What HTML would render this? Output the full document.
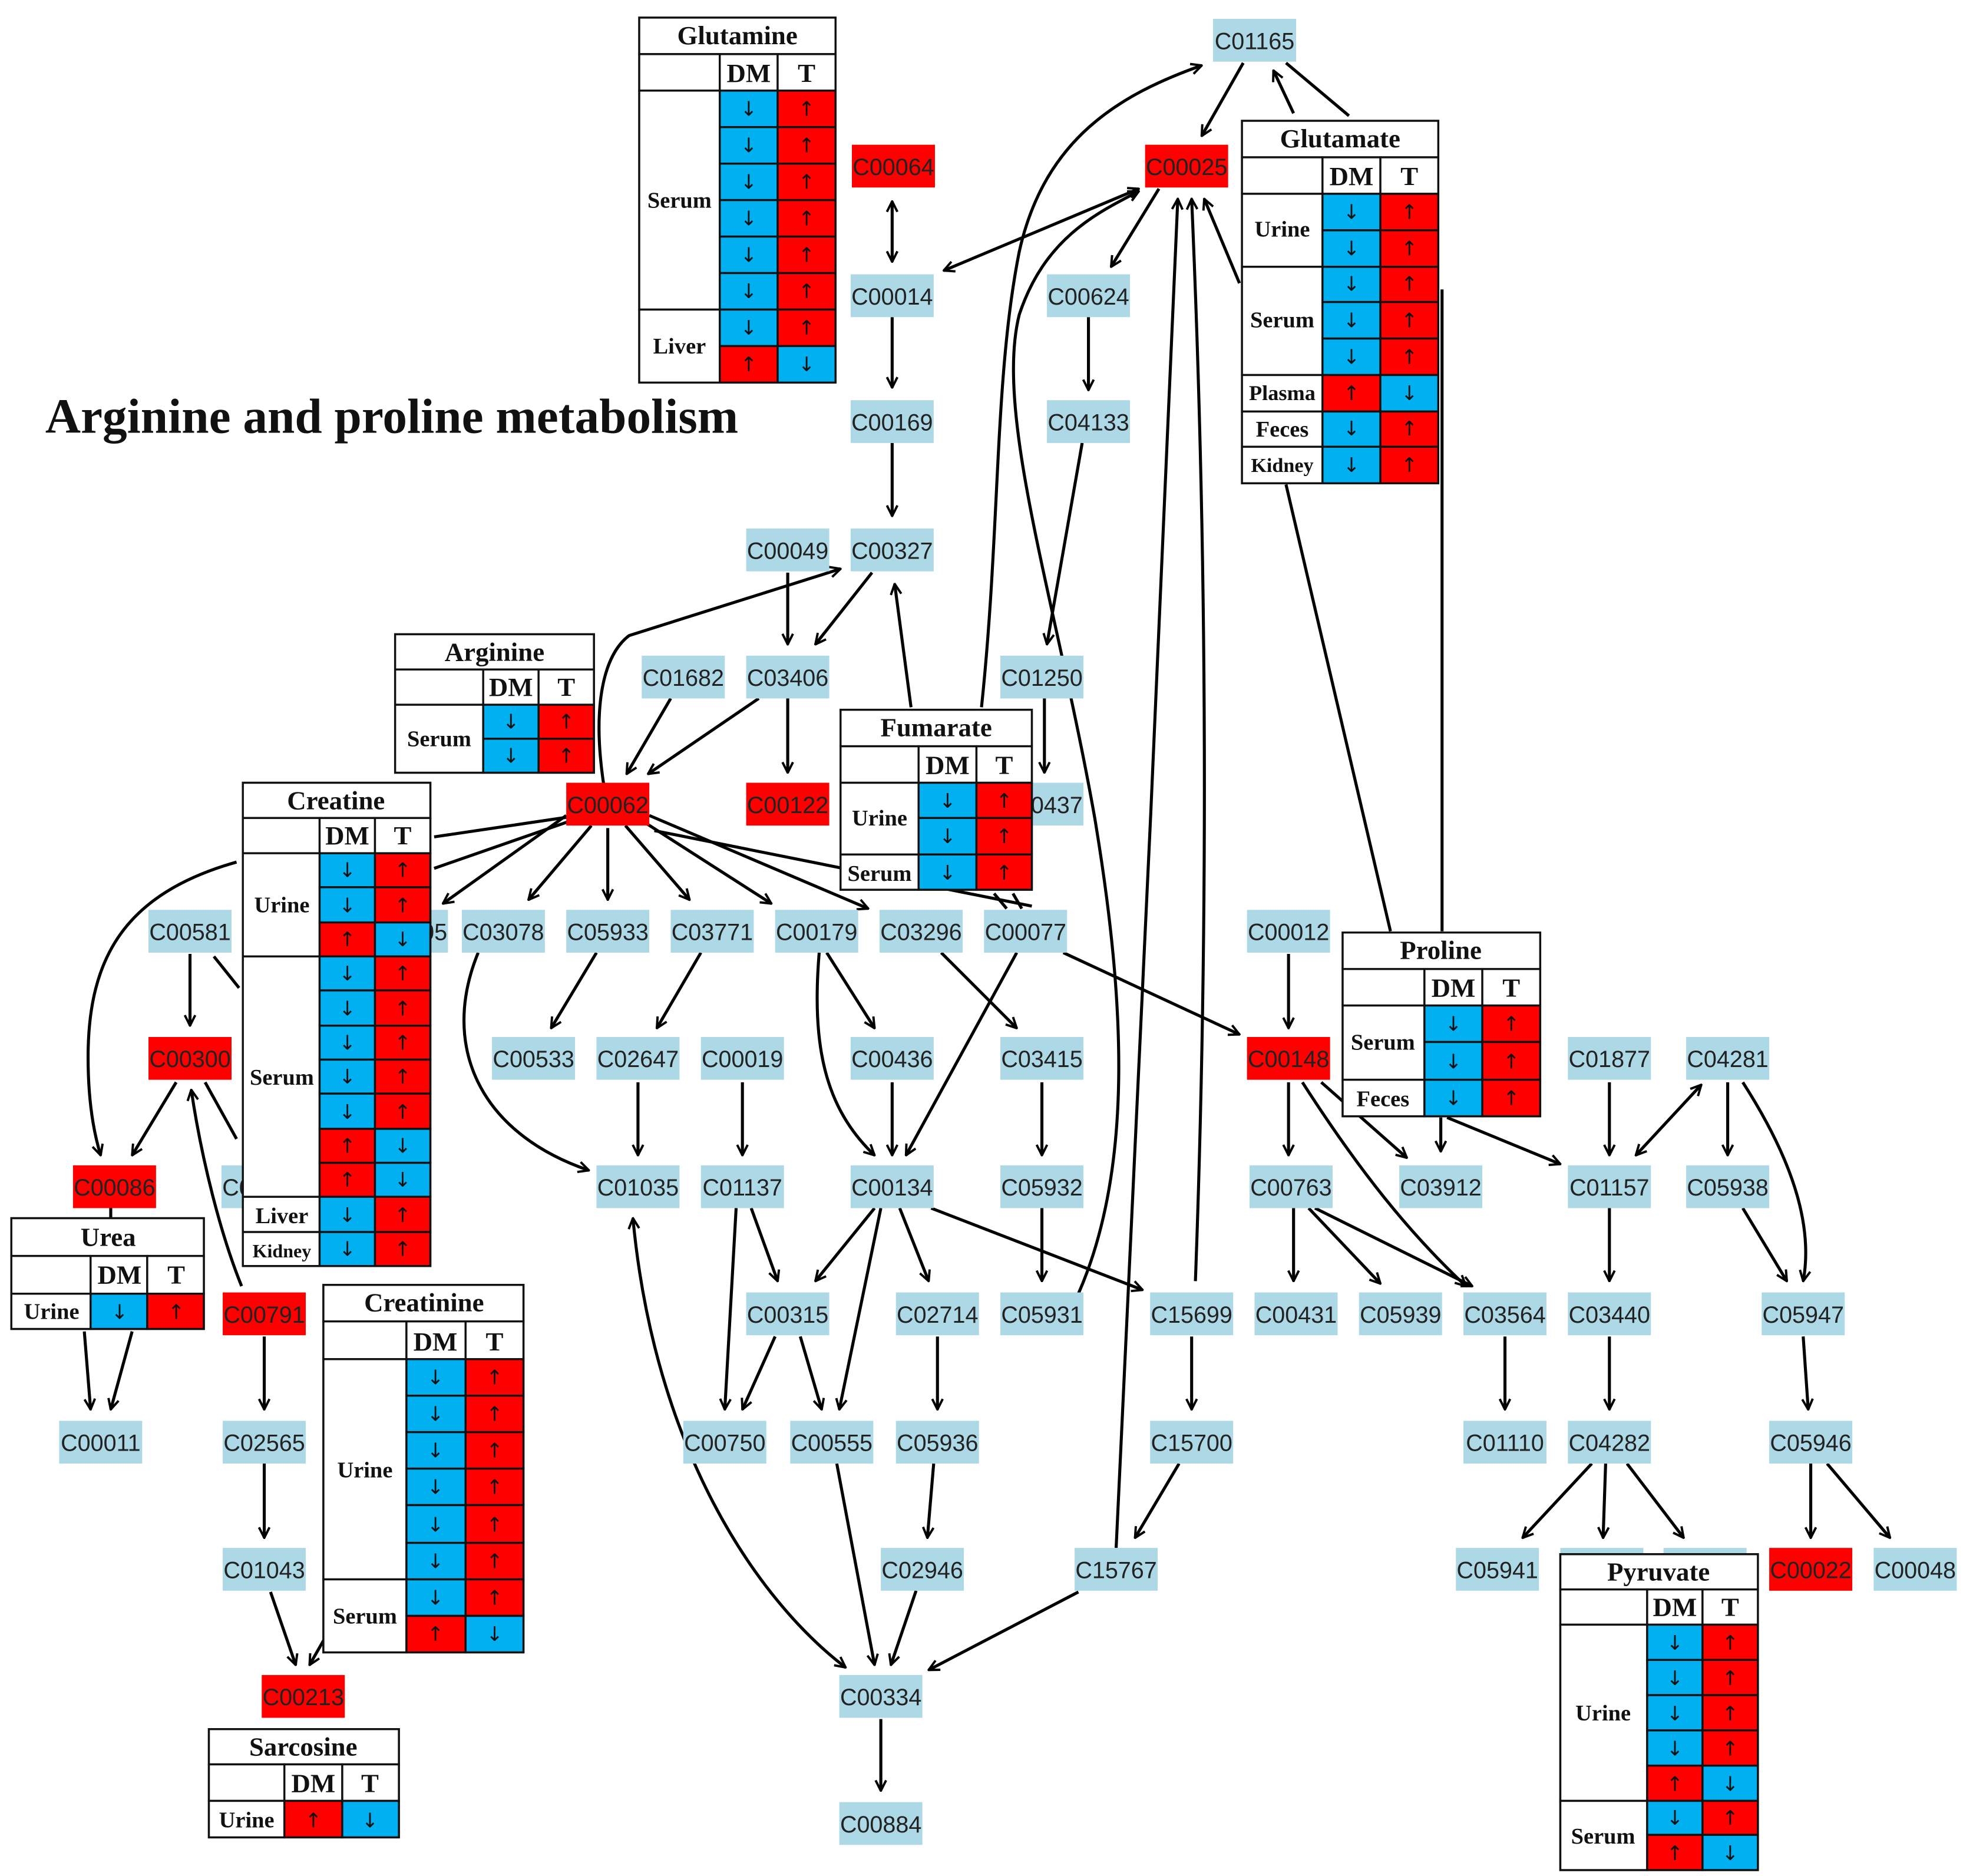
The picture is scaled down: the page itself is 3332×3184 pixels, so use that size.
<!DOCTYPE html>
<html><head><meta charset="utf-8">
<style>
html,body{margin:0;padding:0;background:#fff;}
svg{display:block;}
.n rect{fill:#add8e6;}
.n.r rect{fill:#ff0000;}
.n text{font-family:"Liberation Sans",sans-serif;font-size:18.5px;fill:#222;text-anchor:middle;}
.e{fill:none;stroke:#000;stroke-width:2.4;}
.t rect{stroke:#111;stroke-width:1.6;}
.t .w{fill:#fff;}
.t .b{fill:#00b0f0;}
.t .rr{fill:#ff0000;}
.t text{font-family:"Liberation Serif",serif;font-weight:bold;fill:#111;text-anchor:middle;}
.t .ttl{font-size:21px;}
.t .hd{font-size:21px;}
.t .lb{font-size:18px;}
.t .ar{font-family:"DejaVu Sans",sans-serif;font-weight:normal;font-size:16px;}
</style></head><body>
<svg width="3332" height="3184" viewBox="0 0 1560 1490.7" xmlns="http://www.w3.org/2000/svg">
<defs>
<marker id="a" viewBox="0 0 12 12" refX="11" refY="6" markerWidth="10" markerHeight="10" orient="auto-start-reverse" markerUnits="userSpaceOnUse">
<path d="M1,1 L11,6 L1,11" fill="none" stroke="#000" stroke-width="2.2"/>
</marker>
</defs>
<g>
<text x="36" y="344" font-family="Liberation Serif,serif" font-weight="bold" font-size="39" fill="#111">Arginine and proline metabolism</text>

<!-- connectors -->
<g class="e" marker-end="url(#a)">
<path d="M988,50 L955,108"/>
<path d="M1028,90 L1012,56"/>
<path d="M709,252 L709,308"/>
<path d="M709,352 L709,410"/>
<path d="M921,150 L883,212"/>
<path d="M865,252 L865,310"/>
<path d="M860,352 L832,512"/>
<path d="M830,555 L830,614"/>
<path d="M626,455 L626,512"/>
<path d="M693,455 L648,512"/>
<path d="M626,555 L626,614"/>
<path d="M603,555 L515,615"/>
<path d="M533,555 L498,615"/>
<path d="M480,625 C470,560 480,520 500,505 L668,452"/>
<path d="M724,562 L711,464"/>
<path d="M780,562 C795,420 790,300 810,200 C830,110 890,75 955,52"/>
<path d="M470,656 L420,715"/>
<path d="M483,658 L483,715"/>
<path d="M497,656 L548,715"/>
<path d="M510,652 L613,718"/>
<path d="M516,648 L690,722"/>
<path d="M450,648 L352,718"/>
<path d="M151,758 L151,815"/>
<path d="M140,860 L105,918"/>
<path d="M188,685 C100,710 70,760 70,840 C70,880 76,905 80,918"/>
<path d="M192,1022 C175,980 160,920 152,866"/>
<path d="M67,1058 L72,1120"/>
<path d="M105,1058 L88,1120"/>
<path d="M210,1062 L210,1120"/>
<path d="M210,1163 L210,1222"/>
<path d="M215,1265 L235,1323"/>
<path d="M262,1295 L246,1323"/>
<path d="M380,757 C350,830 380,900 468,930"/>
<path d="M474,757 L438,817"/>
<path d="M557,757 L522,817"/>
<path d="M507,860 L507,918"/>
<path d="M590,860 L590,918"/>
<path d="M657,757 L695,817"/>
<path d="M651,757 C645,830 655,880 695,918"/>
<path d="M709,860 L709,918"/>
<path d="M808,757 L720,918"/>
<path d="M748,757 L808,817"/>
<path d="M828,860 L828,918"/>
<path d="M828,960 L828,1018"/>
<path d="M845,757 L985,822"/>
<path d="M857,1028 C900,930 895,800 870,650 C840,480 790,330 810,250 C830,190 870,170 905,152"/>
<path d="M887,1230 C905,900 920,500 936,158"/>
<path d="M950,1018 C958,800 962,500 947,158"/>
<path d="M985,225 L957,158"/>
<path d="M695,960 L648,1018"/>
<path d="M715,960 L738,1018"/>
<path d="M740,960 L908,1025"/>
<path d="M700,960 L667,1120"/>
<path d="M597,960 L618,1018"/>
<path d="M585,960 L576,1120"/>
<path d="M616,1062 L590,1120"/>
<path d="M636,1062 L653,1120"/>
<path d="M745,1062 L745,1120"/>
<path d="M742,1163 L737,1222"/>
<path d="M665,1163 L695,1323"/>
<path d="M728,1264 L708,1323"/>
<path d="M857,1265 L738,1327"/>
<path d="M700,1366 L700,1423"/>
<path d="M947,1062 L947,1120"/>
<path d="M937,1163 L902,1222"/>
<path d="M1024,758 L1024,817"/>
<path d="M1024,860 L1024,918"/>
<path d="M1050,860 L1118,920"/>
<path d="M1035,860 C1080,930 1120,980 1165,1022"/>
<path d="M1145,888 L1145,915"/>
<path d="M1150,888 L1240,925"/>
<path d="M1028,960 L1028,1018"/>
<path d="M1040,960 L1097,1020"/>
<path d="M1045,960 L1170,1022"/>
<path d="M1196,1062 L1196,1120"/>
<path d="M1279,860 L1279,918"/>
<path d="M1279,960 L1279,1018"/>
<path d="M1279,1062 L1279,1120"/>
<path d="M1265,1163 L1210,1222"/>
<path d="M1276,1163 L1274,1222"/>
<path d="M1293,1163 L1338,1222"/>
<path d="M1373,860 L1373,918"/>
<path d="M1385,860 C1430,930 1440,980 1433,1018"/>
<path d="M1385,960 L1420,1018"/>
<path d="M1433,1062 L1437,1120"/>
<path d="M1439,1163 L1439,1222"/>
<path d="M1452,1163 L1502,1222"/>
</g>
<g class="e">
<path d="M709,160 L709,208" marker-start="url(#a)" marker-end="url(#a)"/>
<path d="M750,215 L905,150" marker-start="url(#a)" marker-end="url(#a)"/>
<path d="M503,968 C520,1150 600,1270 672,1325" marker-start="url(#a)" marker-end="url(#a)"/>
<path d="M1300,918 L1352,862" marker-start="url(#a)" marker-end="url(#a)"/>
<path d="M1072,92 L1022,50"/>
<path d="M1146,230 L1146,740"/>
<path d="M1022,385 L1105,740"/>
<path d="M170,760 L190,785"/>
<path d="M163,860 L188,905"/>
<path d="M520,660 L820,720"/>
<path d="M790,710 L800,722"/>
<path d="M805,710 L812,722"/>
<path d="M345,665 L460,648"/>
<path d="M345,690 L460,650"/>
<path d="M88,958 L88,968"/>
</g>

<!-- nodes -->
<g class="n"><rect x="964" y="15" width="66" height="34"/><text x="997" y="39">C01165</text></g>
<g class="n r"><rect x="677" y="115" width="66" height="34"/><text x="710" y="139">C00064</text></g>
<g class="n r"><rect x="910" y="115" width="66" height="34"/><text x="943" y="139">C00025</text></g>
<g class="n"><rect x="676" y="218" width="66" height="34"/><text x="709" y="242">C00014</text></g>
<g class="n"><rect x="832" y="218" width="66" height="34"/><text x="865" y="242">C00624</text></g>
<g class="n"><rect x="676" y="318" width="66" height="34"/><text x="709" y="342">C00169</text></g>
<g class="n"><rect x="832" y="318" width="66" height="34"/><text x="865" y="342">C04133</text></g>
<g class="n"><rect x="593" y="420" width="66" height="34"/><text x="626" y="444">C00049</text></g>
<g class="n"><rect x="676" y="420" width="66" height="34"/><text x="709" y="444">C00327</text></g>
<g class="n"><rect x="510" y="521" width="66" height="34"/><text x="543" y="545">C01682</text></g>
<g class="n"><rect x="593" y="521" width="66" height="34"/><text x="626" y="545">C03406</text></g>
<g class="n"><rect x="795" y="521" width="66" height="34"/><text x="828" y="545">C01250</text></g>
<g class="n r"><rect x="450" y="622" width="66" height="34"/><text x="483" y="646">C00062</text></g>
<g class="n r"><rect x="593" y="622" width="66" height="34"/><text x="626" y="646">C00122</text></g>
<g class="n"><rect x="795" y="622" width="66" height="34"/><text x="828" y="646">C00437</text></g>
<g class="n"><rect x="118" y="723" width="66" height="34"/><text x="151" y="747">C00581</text></g>
<g class="n"><rect x="290" y="723" width="66" height="34"/><text x="323" y="747">C00405</text></g>
<g class="n"><rect x="367" y="723" width="66" height="34"/><text x="400" y="747">C03078</text></g>
<g class="n"><rect x="450" y="723" width="66" height="34"/><text x="483" y="747">C05933</text></g>
<g class="n"><rect x="533" y="723" width="66" height="34"/><text x="566" y="747">C03771</text></g>
<g class="n"><rect x="616" y="723" width="66" height="34"/><text x="649" y="747">C00179</text></g>
<g class="n"><rect x="699" y="723" width="66" height="34"/><text x="732" y="747">C03296</text></g>
<g class="n"><rect x="782" y="723" width="66" height="34"/><text x="815" y="747">C00077</text></g>
<g class="n"><rect x="991" y="723" width="66" height="34"/><text x="1024" y="747">C00012</text></g>
<g class="n r"><rect x="118" y="824" width="66" height="34"/><text x="151" y="848">C00300</text></g>
<g class="n"><rect x="391" y="824" width="66" height="34"/><text x="424" y="848">C00533</text></g>
<g class="n"><rect x="474" y="824" width="66" height="34"/><text x="507" y="848">C02647</text></g>
<g class="n"><rect x="557" y="824" width="66" height="34"/><text x="590" y="848">C00019</text></g>
<g class="n"><rect x="676" y="824" width="66" height="34"/><text x="709" y="848">C00436</text></g>
<g class="n"><rect x="795" y="824" width="66" height="34"/><text x="828" y="848">C03415</text></g>
<g class="n r"><rect x="991" y="824" width="66" height="34"/><text x="1024" y="848">C00148</text></g>
<g class="n"><rect x="1246" y="824" width="66" height="34"/><text x="1279" y="848">C01877</text></g>
<g class="n"><rect x="1340" y="824" width="66" height="34"/><text x="1373" y="848">C04281</text></g>
<g class="n r"><rect x="58" y="926" width="66" height="34"/><text x="91" y="950">C00086</text></g>
<g class="n"><rect x="176" y="926" width="66" height="34"/><text x="209" y="950">C00000</text></g>
<g class="n"><rect x="474" y="926" width="66" height="34"/><text x="507" y="950">C01035</text></g>
<g class="n"><rect x="557" y="926" width="66" height="34"/><text x="590" y="950">C01137</text></g>
<g class="n"><rect x="676" y="926" width="66" height="34"/><text x="709" y="950">C00134</text></g>
<g class="n"><rect x="795" y="926" width="66" height="34"/><text x="828" y="950">C05932</text></g>
<g class="n"><rect x="993" y="926" width="66" height="34"/><text x="1026" y="950">C00763</text></g>
<g class="n"><rect x="1112" y="926" width="66" height="34"/><text x="1145" y="950">C03912</text></g>
<g class="n"><rect x="1246" y="926" width="66" height="34"/><text x="1279" y="950">C01157</text></g>
<g class="n"><rect x="1340" y="926" width="66" height="34"/><text x="1373" y="950">C05938</text></g>
<g class="n r"><rect x="177" y="1027" width="66" height="34"/><text x="210" y="1051">C00791</text></g>
<g class="n"><rect x="593" y="1027" width="66" height="34"/><text x="626" y="1051">C00315</text></g>
<g class="n"><rect x="712" y="1027" width="66" height="34"/><text x="745" y="1051">C02714</text></g>
<g class="n"><rect x="795" y="1027" width="66" height="34"/><text x="828" y="1051">C05931</text></g>
<g class="n"><rect x="914" y="1027" width="66" height="34"/><text x="947" y="1051">C15699</text></g>
<g class="n"><rect x="997" y="1027" width="66" height="34"/><text x="1030" y="1051">C00431</text></g>
<g class="n"><rect x="1080" y="1027" width="66" height="34"/><text x="1113" y="1051">C05939</text></g>
<g class="n"><rect x="1163" y="1027" width="66" height="34"/><text x="1196" y="1051">C03564</text></g>
<g class="n"><rect x="1246" y="1027" width="66" height="34"/><text x="1279" y="1051">C03440</text></g>
<g class="n"><rect x="1400" y="1027" width="66" height="34"/><text x="1433" y="1051">C05947</text></g>
<g class="n"><rect x="47" y="1129" width="66" height="34"/><text x="80" y="1153">C00011</text></g>
<g class="n"><rect x="177" y="1129" width="66" height="34"/><text x="210" y="1153">C02565</text></g>
<g class="n"><rect x="543" y="1129" width="66" height="34"/><text x="576" y="1153">C00750</text></g>
<g class="n"><rect x="628" y="1129" width="66" height="34"/><text x="661" y="1153">C00555</text></g>
<g class="n"><rect x="712" y="1129" width="66" height="34"/><text x="745" y="1153">C05936</text></g>
<g class="n"><rect x="914" y="1129" width="66" height="34"/><text x="947" y="1153">C15700</text></g>
<g class="n"><rect x="1163" y="1129" width="66" height="34"/><text x="1196" y="1153">C01110</text></g>
<g class="n"><rect x="1246" y="1129" width="66" height="34"/><text x="1279" y="1153">C04282</text></g>
<g class="n"><rect x="1406" y="1129" width="66" height="34"/><text x="1439" y="1153">C05946</text></g>
<g class="n"><rect x="177" y="1230" width="66" height="34"/><text x="210" y="1254">C01043</text></g>
<g class="n"><rect x="700" y="1230" width="66" height="34"/><text x="733" y="1254">C02946</text></g>
<g class="n"><rect x="854" y="1230" width="66" height="34"/><text x="887" y="1254">C15767</text></g>
<g class="n"><rect x="1157" y="1230" width="66" height="34"/><text x="1190" y="1254">C05941</text></g>
<g class="n"><rect x="1240" y="1230" width="66" height="34"/></g>
<g class="n"><rect x="1322" y="1230" width="66" height="34"/></g>
<g class="n r"><rect x="1406" y="1230" width="66" height="34"/><text x="1439" y="1254">C00022</text></g>
<g class="n"><rect x="1489" y="1230" width="66" height="34"/><text x="1522" y="1254">C00048</text></g>
<g class="n r"><rect x="208" y="1331" width="66" height="34"/><text x="241" y="1355">C00213</text></g>
<g class="n"><rect x="667" y="1331" width="66" height="34"/><text x="700" y="1355">C00334</text></g>
<g class="n"><rect x="667" y="1432" width="66" height="34"/><text x="700" y="1456">C00884</text></g>

<!-- Glutamine -->
<g class="t">
<rect class="w" x="508" y="14" width="156" height="290"/>
<rect class="w" x="508" y="14" width="156" height="29"/>
<rect class="w" x="508" y="43" width="64" height="29"/><rect class="w" x="572" y="43" width="46" height="29"/><rect class="w" x="618" y="43" width="46" height="29"/>
<rect class="w" x="508" y="72" width="64" height="174"/><rect class="w" x="508" y="246" width="64" height="58"/>
<rect class="b" x="572" y="72" width="46" height="29"/><rect class="rr" x="618" y="72" width="46" height="29"/>
<rect class="b" x="572" y="101" width="46" height="29"/><rect class="rr" x="618" y="101" width="46" height="29"/>
<rect class="b" x="572" y="130" width="46" height="29"/><rect class="rr" x="618" y="130" width="46" height="29"/>
<rect class="b" x="572" y="159" width="46" height="29"/><rect class="rr" x="618" y="159" width="46" height="29"/>
<rect class="b" x="572" y="188" width="46" height="29"/><rect class="rr" x="618" y="188" width="46" height="29"/>
<rect class="b" x="572" y="217" width="46" height="29"/><rect class="rr" x="618" y="217" width="46" height="29"/>
<rect class="b" x="572" y="246" width="46" height="29"/><rect class="rr" x="618" y="246" width="46" height="29"/>
<rect class="rr" x="572" y="275" width="46" height="29"/><rect class="b" x="618" y="275" width="46" height="29"/>
<text class="ttl" x="586" y="35">Glutamine</text><text class="hd" x="595" y="65">DM</text><text class="hd" x="641" y="65">T</text>
<text class="lb" x="540" y="165">Serum</text><text class="lb" x="540" y="281">Liver</text>
<text class="ar" x="595" y="92">↓</text><text class="ar" x="641" y="92">↑</text>
<text class="ar" x="595" y="121">↓</text><text class="ar" x="641" y="121">↑</text>
<text class="ar" x="595" y="150">↓</text><text class="ar" x="641" y="150">↑</text>
<text class="ar" x="595" y="179">↓</text><text class="ar" x="641" y="179">↑</text>
<text class="ar" x="595" y="208">↓</text><text class="ar" x="641" y="208">↑</text>
<text class="ar" x="595" y="237">↓</text><text class="ar" x="641" y="237">↑</text>
<text class="ar" x="595" y="266">↓</text><text class="ar" x="641" y="266">↑</text>
<text class="ar" x="595" y="295">↑</text><text class="ar" x="641" y="295">↓</text>
</g>

<!-- Glutamate -->
<g class="t">
<rect class="w" x="987" y="96" width="156" height="288"/>
<rect class="w" x="987" y="96" width="156" height="29"/>
<rect class="w" x="987" y="125" width="64" height="29"/><rect class="w" x="1051" y="125" width="46" height="29"/><rect class="w" x="1097" y="125" width="46" height="29"/>
<rect class="w" x="987" y="154" width="64" height="58"/><rect class="w" x="987" y="212" width="64" height="86"/>
<rect class="w" x="987" y="298" width="64" height="29"/><rect class="w" x="987" y="327" width="64" height="28"/><rect class="w" x="987" y="355" width="64" height="29"/>
<rect class="b" x="1051" y="154" width="46" height="29"/><rect class="rr" x="1097" y="154" width="46" height="29"/>
<rect class="b" x="1051" y="183" width="46" height="29"/><rect class="rr" x="1097" y="183" width="46" height="29"/>
<rect class="b" x="1051" y="212" width="46" height="28"/><rect class="rr" x="1097" y="212" width="46" height="28"/>
<rect class="b" x="1051" y="240" width="46" height="29"/><rect class="rr" x="1097" y="240" width="46" height="29"/>
<rect class="b" x="1051" y="269" width="46" height="29"/><rect class="rr" x="1097" y="269" width="46" height="29"/>
<rect class="rr" x="1051" y="298" width="46" height="29"/><rect class="b" x="1097" y="298" width="46" height="29"/>
<rect class="b" x="1051" y="327" width="46" height="28"/><rect class="rr" x="1097" y="327" width="46" height="28"/>
<rect class="b" x="1051" y="355" width="46" height="29"/><rect class="rr" x="1097" y="355" width="46" height="29"/>
<text class="ttl" x="1065" y="117">Glutamate</text><text class="hd" x="1074" y="147">DM</text><text class="hd" x="1120" y="147">T</text>
<text class="lb" x="1019" y="188">Urine</text><text class="lb" x="1019" y="260">Serum</text>
<text class="lb" x="1019" y="318" style="font-size:17px">Plasma</text><text class="lb" x="1019" y="347">Feces</text><text class="lb" x="1019" y="375" style="font-size:16px">Kidney</text>
<text class="ar" x="1074" y="174">↓</text><text class="ar" x="1120" y="174">↑</text>
<text class="ar" x="1074" y="203">↓</text><text class="ar" x="1120" y="203">↑</text>
<text class="ar" x="1074" y="231">↓</text><text class="ar" x="1120" y="231">↑</text>
<text class="ar" x="1074" y="260">↓</text><text class="ar" x="1120" y="260">↑</text>
<text class="ar" x="1074" y="289">↓</text><text class="ar" x="1120" y="289">↑</text>
<text class="ar" x="1074" y="318">↑</text><text class="ar" x="1120" y="318">↓</text>
<text class="ar" x="1074" y="346">↓</text><text class="ar" x="1120" y="346">↑</text>
<text class="ar" x="1074" y="375">↓</text><text class="ar" x="1120" y="375">↑</text>
</g>

<!-- Arginine -->
<g class="t">
<rect class="w" x="314" y="504" width="158" height="110"/>
<rect class="w" x="314" y="504" width="158" height="28"/>
<rect class="w" x="314" y="532" width="70" height="28"/><rect class="w" x="384" y="532" width="44" height="28"/><rect class="w" x="428" y="532" width="44" height="28"/>
<rect class="w" x="314" y="560" width="70" height="54"/>
<rect class="b" x="384" y="560" width="44" height="27"/><rect class="rr" x="428" y="560" width="44" height="27"/>
<rect class="b" x="384" y="587" width="44" height="27"/><rect class="rr" x="428" y="587" width="44" height="27"/>
<text class="ttl" x="393" y="525">Arginine</text><text class="hd" x="406" y="553">DM</text><text class="hd" x="450" y="553">T</text>
<text class="lb" x="349" y="593">Serum</text>
<text class="ar" x="406" y="579">↓</text><text class="ar" x="450" y="579">↑</text>
<text class="ar" x="406" y="606">↓</text><text class="ar" x="450" y="606">↑</text>
</g>

<!-- Fumarate -->
<g class="t">
<rect class="w" x="668" y="564" width="152" height="143"/>
<rect class="w" x="668" y="564" width="152" height="29"/>
<rect class="w" x="668" y="593" width="62" height="29"/><rect class="w" x="730" y="593" width="46" height="29"/><rect class="w" x="776" y="593" width="44" height="29"/>
<rect class="w" x="668" y="622" width="62" height="57"/><rect class="w" x="668" y="679" width="62" height="28"/>
<rect class="b" x="730" y="622" width="46" height="28"/><rect class="rr" x="776" y="622" width="44" height="28"/>
<rect class="b" x="730" y="650" width="46" height="29"/><rect class="rr" x="776" y="650" width="44" height="29"/>
<rect class="b" x="730" y="679" width="46" height="28"/><rect class="rr" x="776" y="679" width="44" height="28"/>
<text class="ttl" x="744" y="585">Fumarate</text><text class="hd" x="753" y="615">DM</text><text class="hd" x="798" y="615">T</text>
<text class="lb" x="699" y="656">Urine</text><text class="lb" x="699" y="700">Serum</text>
<text class="ar" x="753" y="642">↓</text><text class="ar" x="798" y="642">↑</text>
<text class="ar" x="753" y="670">↓</text><text class="ar" x="798" y="670">↑</text>
<text class="ar" x="753" y="699">↓</text><text class="ar" x="798" y="699">↑</text>
</g>

<!-- Creatine -->
<g class="t">
<rect class="w" x="193" y="622" width="149" height="384"/>
<rect class="w" x="193" y="622" width="149" height="28"/>
<rect class="w" x="193" y="650" width="61" height="28"/><rect class="w" x="254" y="650" width="44" height="28"/><rect class="w" x="298" y="650" width="44" height="28"/>
<rect class="w" x="193" y="678" width="61" height="82"/><rect class="w" x="193" y="760" width="61" height="191"/>
<rect class="w" x="193" y="951" width="61" height="28"/><rect class="w" x="193" y="979" width="61" height="27"/>
<rect class="b" x="254" y="678" width="44" height="27"/><rect class="rr" x="298" y="678" width="44" height="27"/>
<rect class="b" x="254" y="705" width="44" height="28"/><rect class="rr" x="298" y="705" width="44" height="28"/>
<rect class="rr" x="254" y="733" width="44" height="27"/><rect class="b" x="298" y="733" width="44" height="27"/>
<rect class="b" x="254" y="760" width="44" height="27"/><rect class="rr" x="298" y="760" width="44" height="27"/>
<rect class="b" x="254" y="787" width="44" height="28"/><rect class="rr" x="298" y="787" width="44" height="28"/>
<rect class="b" x="254" y="815" width="44" height="27"/><rect class="rr" x="298" y="815" width="44" height="27"/>
<rect class="b" x="254" y="842" width="44" height="27"/><rect class="rr" x="298" y="842" width="44" height="27"/>
<rect class="b" x="254" y="869" width="44" height="28"/><rect class="rr" x="298" y="869" width="44" height="28"/>
<rect class="rr" x="254" y="897" width="44" height="27"/><rect class="b" x="298" y="897" width="44" height="27"/>
<rect class="rr" x="254" y="924" width="44" height="27"/><rect class="b" x="298" y="924" width="44" height="27"/>
<rect class="b" x="254" y="951" width="44" height="28"/><rect class="rr" x="298" y="951" width="44" height="28"/>
<rect class="b" x="254" y="979" width="44" height="27"/><rect class="rr" x="298" y="979" width="44" height="27"/>
<text class="ttl" x="267" y="643">Creatine</text><text class="hd" x="276" y="671">DM</text><text class="hd" x="320" y="671">T</text>
<text class="lb" x="224" y="725">Urine</text><text class="lb" x="224" y="862">Serum</text>
<text class="lb" x="224" y="972">Liver</text><text class="lb" x="224" y="999" style="font-size:15px">Kidney</text>
<text class="ar" x="276" y="697">↓</text><text class="ar" x="320" y="697">↑</text>
<text class="ar" x="276" y="725">↓</text><text class="ar" x="320" y="725">↑</text>
<text class="ar" x="276" y="752">↑</text><text class="ar" x="320" y="752">↓</text>
<text class="ar" x="276" y="779">↓</text><text class="ar" x="320" y="779">↑</text>
<text class="ar" x="276" y="807">↓</text><text class="ar" x="320" y="807">↑</text>
<text class="ar" x="276" y="834">↓</text><text class="ar" x="320" y="834">↑</text>
<text class="ar" x="276" y="861">↓</text><text class="ar" x="320" y="861">↑</text>
<text class="ar" x="276" y="889">↓</text><text class="ar" x="320" y="889">↑</text>
<text class="ar" x="276" y="916">↑</text><text class="ar" x="320" y="916">↓</text>
<text class="ar" x="276" y="943">↑</text><text class="ar" x="320" y="943">↓</text>
<text class="ar" x="276" y="971">↓</text><text class="ar" x="320" y="971">↑</text>
<text class="ar" x="276" y="998">↓</text><text class="ar" x="320" y="998">↑</text>
</g>

<!-- Urea -->
<g class="t">
<rect class="w" x="9" y="968" width="153" height="88"/>
<rect class="w" x="9" y="968" width="153" height="30"/>
<rect class="w" x="9" y="998" width="63" height="30"/><rect class="w" x="72" y="998" width="45" height="30"/><rect class="w" x="117" y="998" width="45" height="30"/>
<rect class="w" x="9" y="1028" width="63" height="28"/>
<rect class="b" x="72" y="1028" width="45" height="28"/><rect class="rr" x="117" y="1028" width="45" height="28"/>
<text class="ttl" x="86" y="990">Urea</text><text class="hd" x="95" y="1020">DM</text><text class="hd" x="140" y="1020">T</text>
<text class="lb" x="41" y="1048">Urine</text>
<text class="ar" x="95" y="1048">↓</text><text class="ar" x="140" y="1048">↑</text>
</g>

<!-- Creatinine -->
<g class="t">
<rect class="w" x="257" y="1021" width="159" height="292"/>
<rect class="w" x="257" y="1021" width="159" height="29"/>
<rect class="w" x="257" y="1050" width="66" height="30"/><rect class="w" x="323" y="1050" width="47" height="30"/><rect class="w" x="370" y="1050" width="46" height="30"/>
<rect class="w" x="257" y="1080" width="66" height="175"/><rect class="w" x="257" y="1255" width="66" height="58"/>
<rect class="b" x="323" y="1080" width="47" height="29"/><rect class="rr" x="370" y="1080" width="46" height="29"/>
<rect class="b" x="323" y="1109" width="47" height="29"/><rect class="rr" x="370" y="1109" width="46" height="29"/>
<rect class="b" x="323" y="1138" width="47" height="29"/><rect class="rr" x="370" y="1138" width="46" height="29"/>
<rect class="b" x="323" y="1167" width="47" height="29"/><rect class="rr" x="370" y="1167" width="46" height="29"/>
<rect class="b" x="323" y="1196" width="47" height="30"/><rect class="rr" x="370" y="1196" width="46" height="30"/>
<rect class="b" x="323" y="1226" width="47" height="29"/><rect class="rr" x="370" y="1226" width="46" height="29"/>
<rect class="b" x="323" y="1255" width="47" height="29"/><rect class="rr" x="370" y="1255" width="46" height="29"/>
<rect class="rr" x="323" y="1284" width="47" height="29"/><rect class="b" x="370" y="1284" width="46" height="29"/>
<text class="ttl" x="337" y="1042">Creatinine</text><text class="hd" x="346" y="1073">DM</text><text class="hd" x="393" y="1073">T</text>
<text class="lb" x="290" y="1174">Urine</text><text class="lb" x="290" y="1290">Serum</text>
<text class="ar" x="346" y="1100">↓</text><text class="ar" x="393" y="1100">↑</text>
<text class="ar" x="346" y="1129">↓</text><text class="ar" x="393" y="1129">↑</text>
<text class="ar" x="346" y="1158">↓</text><text class="ar" x="393" y="1158">↑</text>
<text class="ar" x="346" y="1187">↓</text><text class="ar" x="393" y="1187">↑</text>
<text class="ar" x="346" y="1217">↓</text><text class="ar" x="393" y="1217">↑</text>
<text class="ar" x="346" y="1246">↓</text><text class="ar" x="393" y="1246">↑</text>
<text class="ar" x="346" y="1275">↓</text><text class="ar" x="393" y="1275">↑</text>
<text class="ar" x="346" y="1304">↑</text><text class="ar" x="393" y="1304">↓</text>
</g>

<!-- Sarcosine -->
<g class="t">
<rect class="w" x="166" y="1374" width="151" height="86"/>
<rect class="w" x="166" y="1374" width="151" height="28"/>
<rect class="w" x="166" y="1402" width="60" height="29"/><rect class="w" x="226" y="1402" width="46" height="29"/><rect class="w" x="272" y="1402" width="45" height="29"/>
<rect class="w" x="166" y="1431" width="60" height="29"/>
<rect class="rr" x="226" y="1431" width="46" height="29"/><rect class="b" x="272" y="1431" width="45" height="29"/>
<text class="ttl" x="241" y="1395">Sarcosine</text><text class="hd" x="249" y="1424">DM</text><text class="hd" x="294" y="1424">T</text>
<text class="lb" x="196" y="1452">Urine</text>
<text class="ar" x="249" y="1452">↑</text><text class="ar" x="294" y="1452">↓</text>
</g>

<!-- Proline -->
<g class="t">
<rect class="w" x="1067" y="741" width="157" height="146"/>
<rect class="w" x="1067" y="741" width="157" height="29"/>
<rect class="w" x="1067" y="770" width="65" height="29"/><rect class="w" x="1132" y="770" width="46" height="29"/><rect class="w" x="1178" y="770" width="46" height="29"/>
<rect class="w" x="1067" y="799" width="65" height="59"/><rect class="w" x="1067" y="858" width="65" height="29"/>
<rect class="b" x="1132" y="799" width="46" height="29"/><rect class="rr" x="1178" y="799" width="46" height="29"/>
<rect class="b" x="1132" y="828" width="46" height="30"/><rect class="rr" x="1178" y="828" width="46" height="30"/>
<rect class="b" x="1132" y="858" width="46" height="29"/><rect class="rr" x="1178" y="858" width="46" height="29"/>
<text class="ttl" x="1145" y="762">Proline</text><text class="hd" x="1155" y="792">DM</text><text class="hd" x="1201" y="792">T</text>
<text class="lb" x="1099" y="834">Serum</text><text class="lb" x="1099" y="879">Feces</text>
<text class="ar" x="1155" y="819">↓</text><text class="ar" x="1201" y="819">↑</text>
<text class="ar" x="1155" y="849">↓</text><text class="ar" x="1201" y="849">↑</text>
<text class="ar" x="1155" y="878">↓</text><text class="ar" x="1201" y="878">↑</text>
</g>

<!-- Pyruvate -->
<g class="t">
<rect class="w" x="1240" y="1235" width="157" height="251"/>
<rect class="w" x="1240" y="1235" width="157" height="28"/>
<rect class="w" x="1240" y="1263" width="69" height="28"/><rect class="w" x="1309" y="1263" width="44" height="28"/><rect class="w" x="1353" y="1263" width="44" height="28"/>
<rect class="w" x="1240" y="1291" width="69" height="140"/><rect class="w" x="1240" y="1431" width="69" height="55"/>
<rect class="b" x="1309" y="1291" width="44" height="28"/><rect class="rr" x="1353" y="1291" width="44" height="28"/>
<rect class="b" x="1309" y="1319" width="44" height="28"/><rect class="rr" x="1353" y="1319" width="44" height="28"/>
<rect class="b" x="1309" y="1347" width="44" height="28"/><rect class="rr" x="1353" y="1347" width="44" height="28"/>
<rect class="b" x="1309" y="1375" width="44" height="28"/><rect class="rr" x="1353" y="1375" width="44" height="28"/>
<rect class="rr" x="1309" y="1403" width="44" height="28"/><rect class="b" x="1353" y="1403" width="44" height="28"/>
<rect class="b" x="1309" y="1431" width="44" height="27"/><rect class="rr" x="1353" y="1431" width="44" height="27"/>
<rect class="rr" x="1309" y="1458" width="44" height="28"/><rect class="b" x="1353" y="1458" width="44" height="28"/>
<text class="ttl" x="1318" y="1256">Pyruvate</text><text class="hd" x="1331" y="1284">DM</text><text class="hd" x="1375" y="1284">T</text>
<text class="lb" x="1274" y="1367">Urine</text><text class="lb" x="1274" y="1465">Serum</text>
<text class="ar" x="1331" y="1311">↓</text><text class="ar" x="1375" y="1311">↑</text>
<text class="ar" x="1331" y="1339">↓</text><text class="ar" x="1375" y="1339">↑</text>
<text class="ar" x="1331" y="1367">↓</text><text class="ar" x="1375" y="1367">↑</text>
<text class="ar" x="1331" y="1395">↓</text><text class="ar" x="1375" y="1395">↑</text>
<text class="ar" x="1331" y="1423">↑</text><text class="ar" x="1375" y="1423">↓</text>
<text class="ar" x="1331" y="1450">↓</text><text class="ar" x="1375" y="1450">↑</text>
<text class="ar" x="1331" y="1478">↑</text><text class="ar" x="1375" y="1478">↓</text>
</g>
</g>
</svg>
</body></html>
